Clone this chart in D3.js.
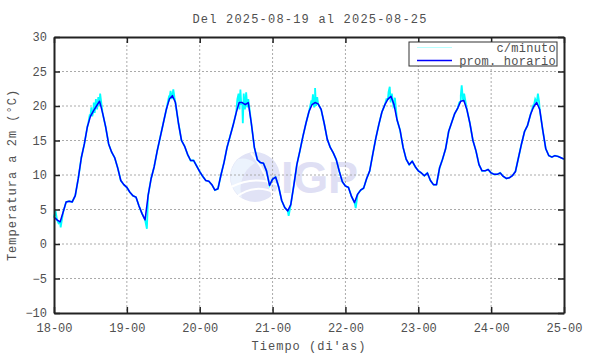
<!DOCTYPE html>
<html>
<head>
<meta charset="utf-8">
<script src="https://cdn.jsdelivr.net/npm/d3@7"></script>
<style>
  body { margin: 0; background: #fff; }
  text { font-family: "Liberation Mono", "DejaVu Sans Mono", monospace; fill: #505050; }
</style>
</head>
<body>
<svg id="chart" width="590" height="354"></svg>
<script>
const title = 'Del 2025-08-19 al 2025-08-25';
const xLabel = "Tiempo (di'as)";
const yLabel = 'Temperatura a 2m (°C)';
const dayTicks = ['18-00', '19-00', '20-00', '21-00', '22-00', '23-00', '24-00', '25-00'];
const tempTicks = [-10, -5, 0, 5, 10, 15, 20, 25, 30];
const legendNames = ['c/minuto', 'prom. horario'];

// hourly mean, one value per hour from 18-00 to 25-00
const hourly = [
  3.9, 3.5, 3.2, 4.6, 6.1, 6.2, 6.1, 7.0, 9.5, 12.5, 14.5, 17.0, 18.5, 19.3, 20.0, 20.7, 19.0, 17.0, 14.5, 13.3, 12.5, 11.0, 9.2, 8.6,
  8.2, 7.5, 7.0, 6.8, 5.5, 4.4, 3.5, 7.0, 9.5, 11.2, 13.5, 15.5, 17.5, 19.5, 21.0, 21.5, 20.5, 17.5, 15.0, 14.2, 13.0, 12.1, 12.1, 11.3,
  10.5, 9.8, 9.2, 9.1, 8.6, 7.8, 8.0, 10.0, 11.8, 14.0, 15.6, 17.2, 19.0, 20.5, 20.5, 20.2, 20.5, 17.5, 14.0, 12.2, 11.8, 11.7, 10.6, 8.5,
  9.4, 9.7, 8.3, 6.3, 5.3, 4.8, 5.7, 8.5, 11.5, 13.5, 15.6, 17.5, 19.2, 20.2, 20.5, 20.3, 19.5, 17.5, 15.2, 14.0, 13.2, 12.2, 10.5, 9.0,
  8.4, 8.2, 6.9, 6.0, 7.2, 7.8, 8.1, 9.5, 10.6, 13.0, 15.3, 17.3, 19.1, 20.2, 21.0, 21.4, 20.2, 18.0, 16.5, 14.0, 12.3, 11.5, 12.0, 11.2,
  10.6, 10.3, 9.9, 10.3, 9.2, 8.6, 8.6, 11.0, 12.3, 13.8, 16.3, 17.6, 18.9, 19.7, 20.7, 20.8, 19.5, 17.5, 15.0, 13.5, 11.5, 10.6, 10.6, 10.8,
  10.3, 10.1, 10.1, 10.3, 9.8, 9.5, 9.6, 9.9, 10.5, 12.5, 14.5, 16.3, 17.2, 18.8, 19.9, 20.5, 19.5, 16.5, 13.8, 12.8, 12.6, 12.8, 12.7, 12.5,
  12.3
];

// per-minute readings that stray from the hourly mean [hour, temp]
const minuteSpikes = [
  [0.5, 4.8], [1.5, 3.0], [2.2, 2.4],
  [11.3, 17.5], [11.8, 18.8], [12.3, 19.8], [12.6, 18.5], [13.1, 20.5], [13.4, 19.0], [13.8, 21.0], [14.2, 19.5], [14.6, 21.3], [15.0, 20.0], [15.2, 21.8],
  [30.6, 2.2],
  [37.8, 21.2], [38.4, 22.2], [38.8, 21.0], [39.3, 22.4], [39.7, 21.2],
  [60.4, 21.0], [60.8, 21.8], [61.1, 19.5], [61.4, 22.4], [61.7, 20.2], [62.2, 17.5], [62.5, 21.8], [62.9, 19.5], [63.3, 22.0], [63.7, 19.8], [64.0, 21.0],
  [77.3, 4.1],
  [84.8, 20.8], [85.3, 21.7], [85.7, 19.8], [86.0, 22.6], [86.3, 20.0], [86.7, 21.3],
  [99.4, 5.2],
  [109.5, 21.0], [110.2, 22.0], [110.6, 22.8], [110.9, 20.5], [111.3, 21.8], [111.8, 20.0], [112.3, 21.2],
  [133.5, 20.5], [134.0, 21.5], [134.3, 23.0], [134.7, 21.0], [135.1, 21.8],
  [157.8, 20.0], [158.5, 21.0], [159.0, 20.3], [159.4, 21.8], [159.8, 20.6]
];

const margin = { top: 37, right: 26, bottom: 41, left: 54 };
const width = 590 - margin.left - margin.right;
const height = 354 - margin.top - margin.bottom;

const svg = d3.select('#chart');
const main = svg.append('g').attr('transform', `translate(${margin.left},${margin.top})`);

const x = d3.scaleLinear().domain([0, 168]).range([0, width]);
const y = d3.scaleLinear().domain([-10, 30]).range([height, 0]);
const dayHours = dayTicks.map((d, i) => i * 24);

// watermark
const wm = main.append('g').attr('class', 'watermark');
wm.append('circle').attr('cx', 201).attr('cy', 140).attr('r', 25).attr('fill', '#e1e3f6');
wm.append('path')
  .attr('d', 'M184,122 A25,25 0 0,0 188,161 A30,30 0 0,1 201,126 A20,20 0 0,0 184,122Z')
  .attr('fill', '#ecf3fd');
wm.append('path').attr('d', 'M177,150 Q201,138 224,148').attr('stroke', '#fff').attr('stroke-width', 2).attr('fill', 'none');
wm.append('path').attr('d', 'M182,160 Q201,146 221,156').attr('stroke', '#fff').attr('stroke-width', 2).attr('fill', 'none');
wm.append('path').attr('d', 'M197,116 Q211,132 219,160').attr('stroke', '#fff').attr('stroke-width', 2).attr('fill', 'none');
wm.append('text')
  .attr('x', 227).attr('y', 156)
  .attr('textLength', 77)
  .style('font-family', '"Liberation Sans", Arial, sans-serif')
  .style('font-weight', 'bold')
  .style('font-size', '45px')
  .style('fill', '#dfdff4')
  .text('IGP');

// grid
main.append('g')
  .attr('class', 'grid')
  .selectAll('line.gx')
  .data(dayHours.slice(1, -1))
  .join('line')
  .attr('x1', d => x(d)).attr('x2', d => x(d))
  .attr('y1', 0).attr('y2', height);
main.append('g')
  .attr('class', 'grid')
  .selectAll('line.gy')
  .data(tempTicks.slice(1, -1))
  .join('line')
  .attr('x1', 0).attr('x2', width)
  .attr('y1', d => y(d)).attr('y2', d => y(d));
main.selectAll('.grid line')
  .attr('stroke', '#aaa')
  .attr('stroke-width', 1)
  .attr('stroke-dasharray', '2,2');

// series
const hourlyPts = hourly.map((v, i) => [i, v]);
const minutePts = hourlyPts.concat(minuteSpikes).sort((a, b) => a[0] - b[0]);
const line = d3.line().x(d => x(d[0])).y(d => y(d[1]));

main.append('path')
  .datum(minutePts)
  .attr('fill', 'none')
  .attr('stroke', '#00ffff')
  .attr('stroke-width', 1.8)
  .attr('d', line);

main.append('path')
  .datum(hourlyPts)
  .attr('fill', 'none')
  .attr('stroke', '#0000ff')
  .attr('stroke-width', 1.5)
  .attr('stroke-linejoin', 'round')
  .attr('d', line);

// axes
const xAxis = d3.axisBottom(x)
  .tickValues(dayHours)
  .tickFormat((d, i) => dayTicks[i])
  .tickSizeInner(-6).tickSizeOuter(0).tickPadding(10);
const xTop = d3.axisTop(x).tickValues(dayHours).tickFormat('').tickSizeInner(-6).tickSizeOuter(0);
const yAxis = d3.axisLeft(y)
  .tickValues(tempTicks)
  .tickSizeInner(-6).tickSizeOuter(0).tickPadding(7);
const yRight = d3.axisRight(y).tickValues(tempTicks).tickFormat('').tickSizeInner(-6).tickSizeOuter(0);

main.append('g').attr('class', 'axis').attr('transform', `translate(0,${height})`).call(xAxis);
main.append('g').attr('class', 'axis').call(xTop);
main.append('g').attr('class', 'axis').call(yAxis);
main.append('g').attr('class', 'axis').attr('transform', `translate(${width},0)`).call(yRight);

main.selectAll('.axis path.domain').attr('stroke', '#222').attr('stroke-width', 2);
main.selectAll('.axis .tick line').attr('stroke', '#222').attr('stroke-width', 1.5);
main.selectAll('.axis text')
  .style('font-family', '"Liberation Mono", monospace')
  .style('font-size', '12px')
  .attr('fill', '#505050');

// legend
const legend = main.append('g').attr('transform', `translate(${355},${5})`);
legend.append('rect')
  .attr('width', 148).attr('height', 24)
  .attr('fill', '#fff')
  .attr('stroke', '#333')
  .attr('stroke-width', 1);
const legendColors = ['#b8ffff', '#0000ff'];
legendNames.forEach((name, i) => {
  legend.append('line')
    .attr('x1', 8).attr('x2', 43)
    .attr('y1', 5.5 + i * 13).attr('y2', 5.5 + i * 13)
    .attr('stroke', legendColors[i])
    .attr('stroke-width', i === 0 ? 1 : 1.3);
  legend.append('text')
    .attr('x', 147).attr('y', 9.5 + i * 13)
    .attr('text-anchor', 'end')
    .style('font-size', '12px')
    .style('letter-spacing', '0.25px')
    .text(name);
});

// titles
svg.append('text')
  .attr('x', 310).attr('y', 23)
  .attr('text-anchor', 'middle')
  .style('font-size', '12px')
  .style('letter-spacing', '1.2px')
  .text(title);

svg.append('text')
  .attr('x', 309).attr('y', 350)
  .attr('text-anchor', 'middle')
  .style('font-size', '12px')
  .style('letter-spacing', '1px')
  .text(xLabel);

svg.append('text')
  .attr('transform', 'translate(16,175) rotate(-90)')
  .attr('text-anchor', 'middle')
  .style('font-size', '12px')
  .style('letter-spacing', '1px')
  .text(yLabel);
</script>
</body>
</html>
